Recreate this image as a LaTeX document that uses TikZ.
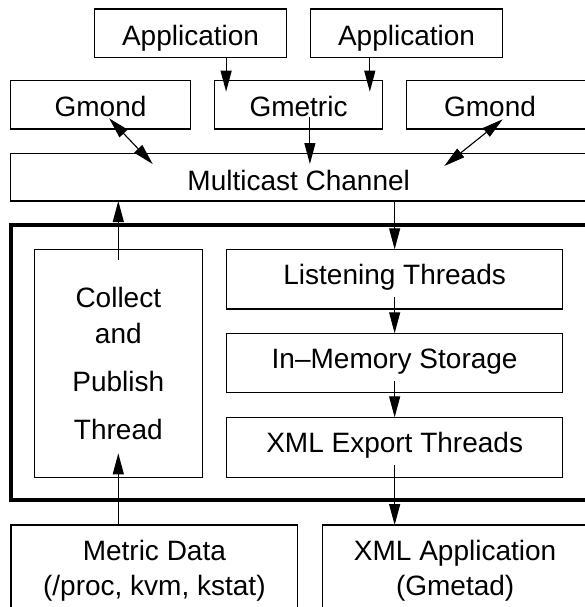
\documentclass[tikz,border=0pt]{standalone}
\usepackage{fontspec}
\setmainfont{Liberation Sans}
\usetikzlibrary{arrows.meta,calc}

\tikzset{
  box/.style={draw, line width=1.1pt, inner sep=0pt, outer sep=0pt,
    font=\fontsize{28}{34}\selectfont, align=center},
  hiText/.style={text height=24pt, text depth=0pt},
  loText/.style={text height=17pt, text depth=6pt},
  arr/.style={-{Triangle[length=21pt,width=11pt]}, line width=1.1pt},
  dbl/.style={{Triangle[length=21pt,width=11pt]}-{Triangle[length=21pt,width=11pt]}, line width=1.1pt},
}

\begin{document}
\begin{tikzpicture}[x=1pt,y=-1pt]
\useasboundingbox (0,0) rectangle (584,607);

% applications on top
\node[box,hiText,minimum width=192.6pt,minimum height=48.3pt] (app1) at (190.5,33.15) {Application};
\node[box,hiText,minimum width=192.6pt,minimum height=48.3pt] (app2) at (406.5,33.15) {Application};

% gmond / gmetric row
\node[box,hiText,minimum width=180.3pt,minimum height=48.3pt] (gmond1) at (100.55,104.85) {Gmond};
\node[box,hiText,minimum width=168pt,minimum height=48.3pt] (gmetric) at (298.5,104.85) {Gmetric};
\node[box,minimum width=183.3pt,minimum height=48.3pt,
  label={[box,draw=none,hiText,xshift=-8.35pt]center:Gmond}] (gmond2) at (498.35,104.85) {};

% multicast channel
\node[box,text height=27pt,text depth=0pt,minimum width=576.6pt,minimum height=47.7pt] (mcast) at (298.7,177.15) {Multicast Channel};

% gmond daemon frame
\node[draw,line width=4pt,inner sep=0pt,outer sep=0pt,minimum width=589.3pt,minimum height=275pt] (core) at (305.35,362.5) {};

\node[box,font=\fontsize{28}{48}\selectfont,minimum width=168pt,minimum height=228pt] (collect) at (118.3,363.3)
  {Collect\\[-12pt]and\\Publish\\Thread};

\node[box,loText,minimum width=336.1pt,minimum height=59.7pt] (listen) at (394.65,279.15) {Listening Threads};
\node[box,loText,minimum width=336.1pt,minimum height=59.4pt] (store) at (394.65,363) {In\textendash Memory Storage};
\node[box,loText,minimum width=336.1pt,minimum height=60pt] (xmlexp) at (394.65,447.3) {XML Export Threads};

% sources and consumers at the bottom
\node[box,font=\fontsize{28}{35}\selectfont,minimum width=286.7pt,minimum height=92pt] (metric) at (154.35,571) {Metric Data\\(/proc, kvm, kstat)};
\node[box,font=\fontsize{28}{35}\selectfont,minimum width=265.7pt,minimum height=92pt] (xmlapp) at (455.15,571) {XML Application\\(Gmetad)};

% connectors
\draw[arr] ([xshift=35.6pt]app1.south) -- ([xshift=-72.4pt,yshift=-11pt]gmetric.north);
\draw[arr] ([xshift=-36.7pt]app2.south) -- ([xshift=71.3pt,yshift=-11pt]gmetric.north);
\draw[arr] ([xshift=11.4pt,yshift=-12.45pt]gmetric.center) -- ([xshift=11.2pt,yshift=-10.7pt]mcast.north);
\draw[dbl] ([xshift=8.55pt,yshift=-13.45pt]gmond1.center) -- ([xshift=-146pt,yshift=-10.7pt]mcast.north);
\draw[dbl] ([xshift=4.35pt,yshift=-14.45pt]gmond2.center) -- ([xshift=145.6pt,yshift=-12.7pt]mcast.north);

\draw[arr] ([yshift=-10.7pt]collect.north) -- (collect.north |- mcast.south);
\draw[arr] (listen.north |- mcast.south) -- (listen.north);
\draw[arr] ([yshift=12.3pt]listen.south) -- (store.north);
\draw[arr] ([yshift=11.7pt]store.south) -- (xmlexp.north);
\draw[arr] ([yshift=12.3pt]xmlexp.south) -- (xmlexp.south |- xmlapp.north);
\draw[arr] (collect.south |- metric.north) -- ([yshift=24pt]collect.south);
\end{tikzpicture}
\end{document}
